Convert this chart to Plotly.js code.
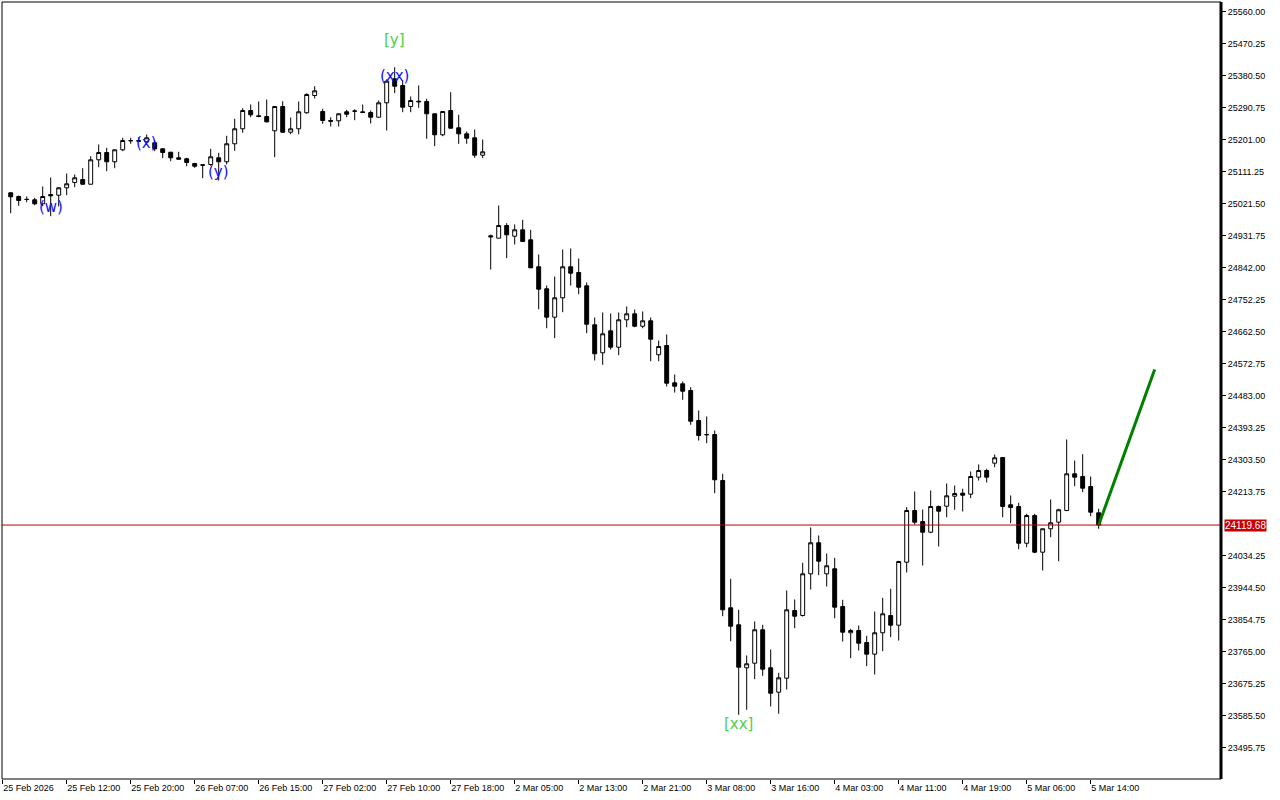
<!DOCTYPE html>
<html><head><meta charset="utf-8">
<script src="https://cdn.plot.ly/plotly-3.0.1.min.js"></script>
<style>html,body{margin:0;padding:0;background:#fff;}#chart{width:1280px;height:800px;}</style>
</head><body><div id="chart"></div>
<script>
// Hourly candles, 25 Feb 2026 05:00 .. 5 Mar 2026 15:00
const opens = [25051.5,25041.1,25032.7,25031.9,25020.6,25046.7,25044.8,25065.5,25080.4,25088.8,
25075.6,25144.1,25164.5,25138.5,25172.1,25197.4,25198.2,25194.5,25191.8,25174.9,
25165.4,25149.7,25146.9,25133.7,25130.0,25130.9,25149.7,25138.5,25189.0,25231.0,
25282.3,25267.5,25265.5,25225.4,25293.6,25221.5,25231.0,25275.9,25324.4,25279.5,
25254.3,25253.4,25278.7,25280.4,25278.7,25276.7,25263.5,25303.9,25371.2,25352.5,
25293.6,25308.4,25307.6,25273.1,25214.2,25282.3,25233.8,25217.0,25205.8,25157.0,
24930.9,24924.2,24959.8,24929.8,24947.7,24919.7,24844.0,24782.3,24702.6,24757.0,
24844.0,24828.0,24790.7,24681.3,24602.8,24664.4,24618.5,24695.3,24712.1,24677.3,
24692.5,24597.2,24623.2,24518.6,24515.8,24497.0,24412.9,24373.6,24373.6,24244.6,
23887.6,23839.9,23719.3,23732.2,23825.9,23719.3,23650.9,23690.1,23880.0,23866.0,
23982.9,24069.9,23982.9,23997.0,23891.3,23817.5,23823.9,23790.3,23757.5,23817.5,
23866.0,23838.8,24015.5,24160.5,24129.6,24099.6,24171.7,24172.5,24200.6,24209.0,
24206.2,24253.9,24272.6,24293.2,24309.1,24176.5,24171.7,24068.7,24146.4,24043.5,
24109.2,24127.7,24160.5,24263.4,24255.9,24227.7,24154.0];
const highs = [25053.2,25043.9,25041.1,25037.5,25069.2,25094.4,25067.2,25105.6,25102.8,25120.5,
25154.2,25187.0,25177.7,25173.0,25205.8,25205.8,25207.5,25215.0,25198.2,25175.5,
25166.0,25166.5,25149.7,25135.6,25131.8,25174.9,25163.7,25211.4,25259.1,25288.8,
25299.2,25307.6,25313.2,25294.5,25308.4,25262.7,25307.6,25330.9,25350.5,25287.1,
25263.5,25274.0,25284.3,25286.0,25299.2,25282.3,25310.4,25370.1,25403.8,25366.5,
25321.6,25352.5,25315.2,25274.0,25280.5,25333.7,25270.3,25223.4,25229.0,25201.0,
24934.5,25015.9,24966.3,24962.6,24975.8,24947.7,24878.5,24791.5,24816.8,24892.5,
24895.3,24867.2,24800.0,24701.8,24715.8,24713.0,24715.8,24732.6,24724.2,24718.6,
24701.8,24637.3,24654.1,24541.9,24522.3,24506.3,24440.9,24424.1,24384.8,24263.4,
23968.9,23881.9,23753.8,23849.2,23839.9,23770.6,23705.3,23936.1,23910.9,24013.8,
24112.8,24090.4,24039.8,24027.8,23910.0,23828.7,23838.0,23809.1,23877.2,23915.6,
23940.9,24019.4,24169.8,24213.8,24163.3,24216.6,24174.5,24236.2,24230.6,24221.4,
24269.9,24289.5,24277.4,24317.6,24310.0,24202.5,24182.0,24151.2,24151.2,24110.0,
24191.3,24165.3,24359.6,24300.7,24318.4,24255.9,24165.3];
const lows = [24994.3,25015.0,25025.1,25016.7,25013.9,24985.9,25013.1,25044.8,25067.2,25073.9,
25074.8,25123.3,25112.1,25120.5,25168.2,25189.0,25195.4,25190.6,25168.2,25148.6,
25140.1,25144.9,25126.1,25121.6,25092.5,25127.2,25086.0,25130.9,25169.3,25219.8,
25263.5,25263.5,25248.7,25151.4,25219.8,25215.9,25215.9,25273.1,25316.0,25245.0,
25237.4,25237.4,25263.5,25255.1,25274.8,25245.9,25262.5,25226.2,25330.9,25277.6,
25277.6,25289.9,25203.0,25182.2,25210.3,25231.0,25189.0,25189.0,25149.7,25148.6,
24836.4,24923.5,24868.1,24906.5,24914.0,24840.0,24725.0,24671.7,24643.7,24716.6,
24791.5,24767.1,24657.8,24581.2,24569.1,24612.0,24596.0,24674.5,24674.5,24671.7,
24579.2,24579.2,24508.3,24491.4,24471.0,24400.9,24356.8,24349.2,24209.0,23864.0,
23793.9,23587.5,23601.5,23687.3,23696.9,23610.8,23590.3,23658.4,23830.4,23863.1,
23938.9,23979.0,23947.3,23858.3,23793.0,23746.3,23767.8,23723.8,23700.5,23765.8,
23805.2,23795.8,23986.6,24121.2,24006.2,24096.8,24059.5,24141.6,24162.5,24157.7,
24195.0,24244.6,24239.0,24281.9,24141.6,24124.8,24051.9,24057.5,24040.7,23992.1,
24085.5,24018.3,24158.5,24228.6,24211.8,24144.4,24109.2];
const closes = [25040.3,25029.9,25033.0,25020.6,25041.1,25043.1,25065.5,25076.7,25093.6,25075.6,
25144.1,25164.5,25138.5,25172.1,25198.2,25197.8,25196.2,25205.8,25174.9,25164.5,
25149.7,25145.8,25136.5,25126.1,25129.0,25152.5,25138.5,25189.0,25231.0,25282.3,
25270.3,25265.5,25250.6,25293.6,25221.5,25231.0,25278.7,25327.2,25337.6,25254.3,
25252.3,25273.1,25272.0,25280.8,25276.7,25263.5,25303.9,25364.5,25350.5,25291.6,
25310.4,25306.8,25273.1,25214.2,25279.5,25232.7,25217.0,25204.6,25157.0,25166.5,
24928.1,24959.8,24933.7,24947.7,24914.9,24841.1,24781.2,24702.6,24757.0,24844.0,
24826.0,24786.7,24683.0,24600.0,24656.0,24618.5,24695.3,24712.1,24677.3,24692.5,
24640.9,24620.4,24517.5,24509.0,24495.0,24410.9,24370.8,24373.0,24246.6,23881.9,
23836.0,23721.0,23730.5,23825.9,23715.4,23648.0,23691.2,23881.9,23864.0,23982.9,
24069.9,24018.3,24005.4,23889.3,23819.2,23823.9,23788.3,23757.5,23817.5,23870.7,
23838.8,24017.4,24160.5,24127.7,24099.6,24171.7,24158.5,24201.7,24208.2,24203.4,
24255.9,24272.6,24253.9,24308.3,24171.7,24168.9,24068.7,24146.4,24043.5,24109.2,
24126.0,24162.5,24263.4,24253.9,24223.0,24155.7,24119.68];

// x-axis labels (bar index of each label)
const xTickBars = [-1,7,15,23,31,39,47,55,63,71,79,87,95,103,111,119,127,135];
const xTickLabels = ["25 Feb 2026","25 Feb 12:00","25 Feb 20:00","26 Feb 07:00","26 Feb 15:00",
"27 Feb 02:00","27 Feb 10:00","27 Feb 18:00","2 Mar 05:00","2 Mar 13:00","2 Mar 21:00",
"3 Mar 08:00","3 Mar 16:00","4 Mar 03:00","4 Mar 11:00","4 Mar 19:00","5 Mar 06:00","5 Mar 14:00"];

// y-axis price labels
const yTickStart = 23495.75;
const yTickStep = 89.75;
const yTickCount = 24;

// Elliott wave labels
const waveLabels = ["(w)","(x)","(y)","(xx)","[y]","[xx]"];
const waveBars = [5,17,26,48,48,91];
const wavePrices = [25013,25190,25111,25378,25479,23563];
const waveColors = ["#1010ff","#1010ff","#1010ff","#1010ff","#4cd04c","#4cd04c"];

// projection line
const projBars = [136,143];
const projPrices = [24119.68,24556];

const idx = closes.map((_, i) => i);
const lastClose = closes[closes.length - 1];

// tick values; the one hidden behind the price box is left out
const yTickVals = [];
for (let i = 0; i < yTickCount; i++) {
  const v = yTickStart + i * yTickStep;
  if (Math.abs(v - lastClose) > yTickStep * 0.4) yTickVals.push(v);
}
const yTickText = yTickVals.map(v => v.toFixed(2));

const traces = [
  {
    type: 'candlestick', x: idx, open: opens, high: highs, low: lows, close: closes,
    increasing: {line: {color: '#000', width: 1}, fillcolor: '#fff'},
    decreasing: {line: {color: '#000', width: 1}, fillcolor: '#000'},
    whiskerwidth: 0, hoverinfo: 'skip', showlegend: false
  },
  {
    type: 'scatter', mode: 'lines', x: projBars, y: projPrices,
    line: {color: '#008000', width: 3}, hoverinfo: 'skip', showlegend: false
  }
];

const annotations = waveLabels.map((t, i) => ({
  x: waveBars[i], y: wavePrices[i], xref: 'x', yref: 'y', text: t, showarrow: false,
  font: {family: 'DejaVu Sans', size: 15, color: waveColors[i]}
}));
annotations.push({
  x: 1, xref: 'paper', y: lastClose, yref: 'y', xanchor: 'left', yanchor: 'middle', xshift: 3,
  text: lastClose.toFixed(2), showarrow: false, bgcolor: '#c80000', borderpad: 0,
  font: {family: 'Liberation Sans, Arial', size: 10, color: '#fff'}
});

const pxPerUnit = 32 / yTickStep;
const yTop = 25560 + 9.5 / pxPerUnit;
const yBot = 25560 - 767.5 / pxPerUnit;

const layout = {
  width: 1280, height: 800,
  margin: {l: 2, r: 59, t: 2, b: 21},
  paper_bgcolor: '#fff', plot_bgcolor: '#fff',
  showlegend: false,
  font: {family: 'Liberation Sans, Arial', size: 9, color: '#000'},
  xaxis: {
    range: [-1.0875, 151.29], showgrid: false, zeroline: false,
    rangeslider: {visible: false},
    tickmode: 'array', tickvals: xTickBars, ticktext: xTickLabels,
    ticks: 'outside', ticklen: 4, tickcolor: '#000', tickwidth: 1,
    ticklabelposition: 'outside right',
    tickfont: {family: 'Liberation Sans, Arial', size: 9, color: '#000'},
    showline: false, fixedrange: true
  },
  yaxis: {
    side: 'right', range: [yBot, yTop], showgrid: false, zeroline: false,
    tickmode: 'array', tickvals: yTickVals, ticktext: yTickText,
    ticks: 'outside', ticklen: 4, tickcolor: '#000', tickwidth: 1,
    tickfont: {family: 'Liberation Sans, Arial', size: 9, color: '#000'},
    showline: false, fixedrange: true
  },
  shapes: [
    {type: 'line', xref: 'paper', x0: 0, x1: 1, yref: 'y', y0: lastClose, y1: lastClose,
     line: {color: '#c00000', width: 1}},
    {type: 'rect', xref: 'paper', yref: 'paper', x0: 0, x1: 1, y0: 0, y1: 1,
     line: {color: '#000', width: 1}},
    {type: 'line', xref: 'paper', yref: 'paper', x0: 1, x1: 1, y0: 0, y1: 1,
     line: {color: '#000', width: 3}}
  ],
  annotations: annotations
};

Plotly.newPlot('chart', traces, layout, {displayModeBar: false, staticPlot: true});
</script>
</body></html>
